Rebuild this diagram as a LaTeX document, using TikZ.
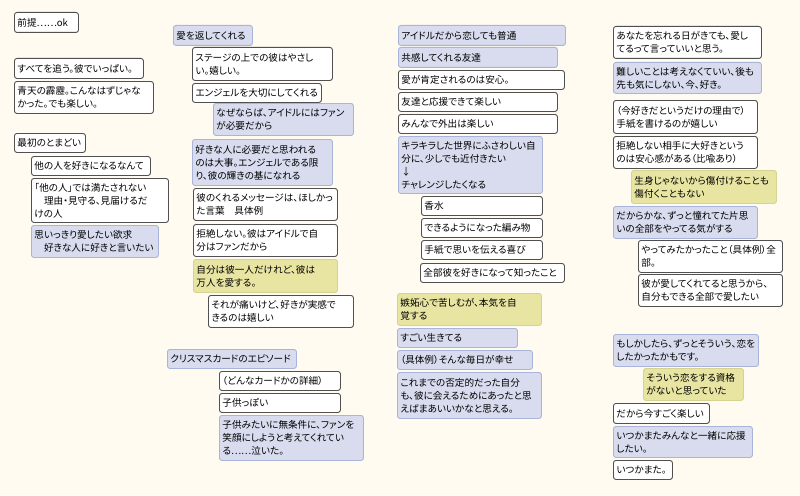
\documentclass[tikz,border=0pt]{standalone}
\usepackage{fontspec}
\setmainfont{Noto Sans CJK JP}[RawFeature=+palt]
\usepackage{tikz}
\usetikzlibrary{positioning}
\usepackage{xcolor}

\definecolor{paper}{HTML}{FFFBF0}
\definecolor{bluefill}{HTML}{D8DCEE}
\definecolor{blueline}{HTML}{A8B4D8}
\definecolor{yellowfill}{HTML}{E8E4A2}
\definecolor{yellowline}{HTML}{D6D292}
\definecolor{greyline}{HTML}{505050}

\tikzset{
  memo/.style={anchor=north west, rounded corners=2.5pt, inner xsep=3pt, inner ysep=1pt,
    align=left, line width=0.9pt, text=black, font=\fontsize{9.6}{13}\selectfont},
  whitebox/.style={memo, draw=greyline, fill=white},
  bluebox/.style={memo, draw=blueline, fill=bluefill},
  yellowbox/.style={memo, draw=yellowline, fill=yellowfill},
}

\begin{document}
\begin{tikzpicture}[x=1pt, y=-1pt]
  \useasboundingbox (0,0) rectangle (800,495);
  \fill[paper] (0,0) rectangle (800,495);

  % first column
  \node[whitebox, text width=58pt, minimum height=20pt] (a1) at (14,12) {前提……ok};
  \node[whitebox, text width=123pt, minimum height=20pt] (a2) at (14,58) {すべてを追う。彼でいっぱい。};
  \node[whitebox, text width=133pt, minimum height=32pt] (a3) at (14,81) {青天の霹靂。こんなはずじゃな\\かった。でも楽しい。};
  \node[whitebox, text width=65pt, minimum height=19pt] (a4) at (14,133) {最初のとまどい};
  \node[whitebox, text width=113pt, minimum height=19pt] (a5) at (31,156) {他の人を好きになるなんて};
  \node[whitebox, text width=131pt, minimum height=44pt] (a6) at (31,178) {「他の人」では満たされない\\　理由・見守る、見届けるだ\\けの人};
  \node[bluebox, text width=121pt, minimum height=32pt] (a7) at (31,225) {思いっきり愛したい欲求\\　好きな人に好きと言いたい};

  % second column
  \node[bluebox, text width=73pt, minimum height=20pt] (b1) at (173,25) {愛を返してくれる};
  \node[whitebox, text width=134pt, minimum height=33pt] (b2) at (192,47) {ステージの上での彼はやさし\\い。嬉しい。};
  \node[whitebox, text width=123pt, minimum height=19pt] (b3) at (192,83) {エンジェルを大切にしてくれる};
  \node[bluebox, text width=134pt, minimum height=32pt] (b4) at (213,103) {なぜならば、アイドルにはファン\\が必要だから};
  \node[bluebox, text width=134pt, minimum height=46pt] (b5) at (192,139) {好きな人に必要だと思われる\\のは大事。エンジェルである限\\り、彼の輝きの基になれる};
  \node[whitebox, text width=138pt, minimum height=32pt] (b6) at (193,188) {彼のくれるメッセージは、ほしかっ\\た言葉　具体例};
  \node[whitebox, text width=138pt, minimum height=32pt] (b7) at (193,224) {拒絶しない。彼はアイドルで自\\分はファンだから};
  \node[yellowbox, text width=138pt, minimum height=33pt] (b8) at (193,259) {自分は彼一人だけれど、彼は\\万人を愛する。};
  \node[whitebox, text width=139pt, minimum height=32pt] (b9) at (208,295) {それが痛いけど、好きが実感で\\きるのは嬉しい};
  \node[bluebox, text width=123pt, minimum height=19pt] (b10) at (167,349) {クリスマスカードのエピソード};
  \node[whitebox, text width=115pt, minimum height=19pt] (b11) at (219,371) {（どんなカードかの詳細）};
  \node[whitebox, text width=115pt, minimum height=19pt] (b12) at (219,393) {子供っぽい};
  \node[bluebox, text width=138pt, minimum height=45pt] (b13) at (219,415) {子供みたいに無条件に、ファンを\\笑顔にしようと考えてくれてい\\る……泣いた。};

  % third column
  \node[bluebox, text width=161pt, minimum height=20pt] (c1) at (398,25) {アイドルだから恋しても普通};
  \node[bluebox, text width=153pt, minimum height=20pt] (c2) at (398,47) {共感してくれる友達};
  \node[whitebox, text width=160pt, minimum height=19pt] (c3) at (398,70) {愛が肯定されるのは安心。};
  \node[whitebox, text width=153pt, minimum height=19pt] (c4) at (398,92) {友達と応援できて楽しい};
  \node[whitebox, text width=153pt, minimum height=19pt] (c5) at (398,114) {みんなで外出は楽しい};
  \node[bluebox, text width=138pt, minimum height=57pt] (c6) at (398,136) {キラキラした世界にふさわしい自\\分に、少しでも近付きたい\\↓\\チャレンジしたくなる};
  \node[whitebox, text width=115pt, minimum height=19pt] (c7) at (421,196) {香水};
  \node[whitebox, text width=115pt, minimum height=19pt] (c8) at (421,218) {できるようになった編み物};
  \node[whitebox, text width=115pt, minimum height=19pt] (c9) at (421,240) {手紙で思いを伝える喜び};
  \node[whitebox, text width=138pt, minimum height=19pt] (c10) at (420,263) {全部彼を好きになって知ったこと};
  \node[yellowbox, text width=138pt, minimum height=32pt] (c11) at (397,293) {嫉妬心で苦しむが、本気を自\\覚する};
  \node[bluebox, text width=114pt, minimum height=19pt] (c12) at (397,328) {すごい生きてる};
  \node[bluebox, text width=129pt, minimum height=19pt] (c13) at (397,350) {（具体例）そんな毎日が幸せ};
  \node[bluebox, text width=138pt, minimum height=46pt] (c14) at (397,372) {これまでの否定的だった自分\\も、彼に会えるためにあったと思\\えばまあいいかなと思える。};

  % fourth column
  \node[whitebox, text width=142pt, minimum height=32pt] (d1) at (613,26) {あなたを忘れる日がきても、愛し\\てるって言っていいと思う。};
  \node[bluebox, text width=142pt, minimum height=31pt] (d2) at (613,62) {難しいことは考えなくていい、後も\\先も気にしない、今、好き。};
  \node[whitebox, text width=138pt, minimum height=33pt] (d3) at (613,100) {（今好きだというだけの理由で）\\手紙を書けるのが嬉しい};
  \node[whitebox, text width=138pt, minimum height=32pt] (d4) at (613,136) {拒絶しない相手に大好きという\\のは安心感がある（比喩あり）};
  \node[yellowbox, text width=139pt, minimum height=33pt] (d5) at (631,170) {生身じゃないから傷付けることも\\傷付くこともない};
  \node[bluebox, text width=138pt, minimum height=32pt] (d6) at (613,206) {だからかな、ずっと憧れてた片思\\いの全部をやってる気がする};
  \node[whitebox, text width=138pt, minimum height=32pt] (d7) at (638,240) {やってみたかったこと（具体例）全\\部。};
  \node[whitebox, text width=138pt, minimum height=32pt] (d8) at (638,274) {彼が愛してくれてると思うから、\\自分もできる全部で愛したい};
  \node[bluebox, text width=139pt, minimum height=32pt] (d9) at (613,334) {もしかしたら、ずっとそういう、恋を\\したかったかもです。};
  \node[yellowbox, text width=94pt, minimum height=32pt] (d10) at (643,368) {そういう恋をする資格\\がないと思っていた};
  \node[whitebox, text width=90pt, minimum height=20pt] (d11) at (613,403) {だから今すごく楽しい};
  \node[bluebox, text width=133pt, minimum height=31pt] (d12) at (613,426) {いつかまたみんなと一緒に応援\\したい。};
  \node[whitebox, text width=53pt, minimum height=19pt] (d13) at (613,460) {いつかまた。};
\end{tikzpicture}
\end{document}
